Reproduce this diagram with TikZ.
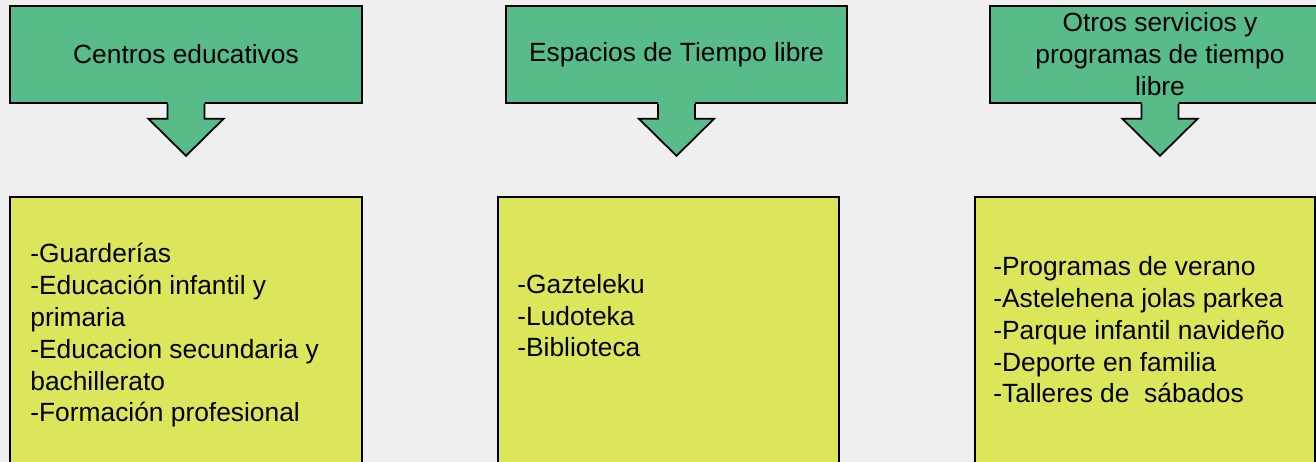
\documentclass[tikz,border=0pt]{standalone}
\usepackage{fontspec}
\setmainfont{Liberation Sans}
\usepackage{tikz}
\usetikzlibrary{calc}

\definecolor{verde}{RGB}{87,187,138}
\definecolor{amarillo}{RGB}{219,230,90}
\definecolor{fondo}{RGB}{239,239,239}

\begin{document}
\begin{tikzpicture}[x=0.02cm, y=-0.02cm,
  texto/.style={font=\fontsize{15pt}{18.2pt}\selectfont},
  cabecera/.style={texto, draw, line width=1pt, fill=verde, align=center, minimum height=1.94cm},
  lista/.style={draw, line width=1pt, fill=amarillo, minimum height=5.66cm},
  item/.style={texto, align=left, anchor=base west, inner sep=0pt},
  flecha/.style={line width=1pt, line join=miter}]
\path[use as bounding box, fill=fondo] (0,0) rectangle (1316,462);
% cajas verdes
\node (c1) at (186,54.5)[cabecera, minimum width=7.04cm] {Centros educativos};
\node (c2) at (676.5,54.5)[cabecera, minimum width=6.82cm] {Espacios de Tiempo libre};
\node (c3) at (1160,54.5)[cabecera, minimum width=6.8cm] {Otros servicios y\\programas de tiempo\\libre};
% flechas
\fill[verde] ($(c1.south)+(-18.5,-2)$) -- ++(0,17) -- ++(-19,0) -- ++(37.5,37) -- ++(37.5,-37) -- ++(-19,0) -- ++(0,-17) -- cycle;
\draw[flecha] ($(c1.south)+(-18.5,0)$) -- ++(0,15) -- ++(-19,0) -- ++(37.5,37) -- ++(37.5,-37) -- ++(-19,0) -- ++(0,-15);
\fill[verde] ($(c2.south)+(-18.5,-2)$) -- ++(0,17) -- ++(-19,0) -- ++(37.5,37) -- ++(37.5,-37) -- ++(-19,0) -- ++(0,-17) -- cycle;
\draw[flecha] ($(c2.south)+(-18.5,0)$) -- ++(0,15) -- ++(-19,0) -- ++(37.5,37) -- ++(37.5,-37) -- ++(-19,0) -- ++(0,-15);
\fill[verde] ($(c3.south)+(-18.5,-2)$) -- ++(0,17) -- ++(-19,0) -- ++(37.5,37) -- ++(37.5,-37) -- ++(-19,0) -- ++(0,-17) -- cycle;
\draw[flecha] ($(c3.south)+(-18.5,0)$) -- ++(0,15) -- ++(-19,0) -- ++(37.5,37) -- ++(37.5,-37) -- ++(-19,0) -- ++(0,-15);
% cajas amarillas
\node (a1) at (186,338.5)[lista, minimum width=7.04cm] {};
\node (a2) at (668.5,338.5)[lista, minimum width=6.82cm] {};
\node (a3) at (1145,338.5)[lista, minimum width=6.8cm] {};
\node (l1) at (30,422)[item] {-Guarderías\\-Educación infantil y\\primaria\\-Educacion secundaria y\\bachillerato\\-Formación profesional};
\node (l2) at (517,357)[item] {-Gazteleku\\-Ludoteka\\-Biblioteca};
\node (l3) at (993,403)[item] {-Programas de verano\\-Astelehena jolas parkea\\-Parque infantil navideño\\-Deporte en familia\\-Talleres de \ sábados};
\end{tikzpicture}
\end{document}
